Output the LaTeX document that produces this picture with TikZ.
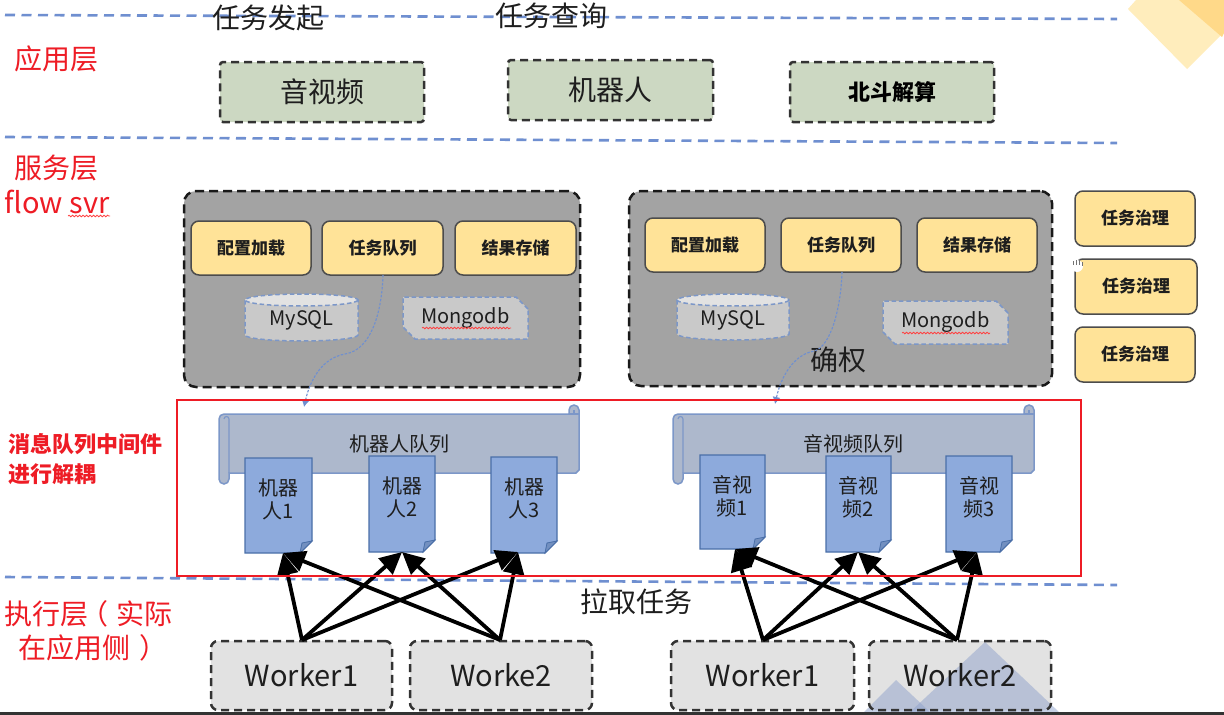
\documentclass[tikz,border=0pt]{standalone}
\usepackage{fontspec}
\setmainfont{Noto Sans CJK SC}
\usetikzlibrary{arrows.meta,shapes.misc,decorations.pathmorphing}
\definecolor{lineblue}{HTML}{6F8FD0}
\definecolor{grayboxc}{HTML}{A3A3A3}
\definecolor{yellowc}{HTML}{FFE398}
\definecolor{greenc}{HTML}{CCD8C2}
\definecolor{workerc}{HTML}{E2E2E2}
\definecolor{scrollc}{HTML}{ADB8CC}
\definecolor{scrolle}{HTML}{7C97C8}
\definecolor{docc}{HTML}{8DAADC}
\definecolor{doce}{HTML}{4A6FA8}
\definecolor{foldc}{HTML}{7390C0}
\definecolor{dbc}{HTML}{C9C9C9}
\definecolor{dbtop}{HTML}{E2E2E2}
\definecolor{redc}{HTML}{EE1C25}
\definecolor{txt}{HTML}{1E1E1E}
\definecolor{mount}{HTML}{8FA2CC}
\tikzset{
  x=1pt,y=-1pt,
  every node/.style={outer sep=0pt,inner sep=0pt,text=txt},
  layerline/.style={draw=lineblue,line width=2.6pt,dash pattern=on 10pt off 6.5pt},
  greenbox/.style={draw=black!80,fill=greenc,line width=2.5pt,dash pattern=on 8pt off 5pt,rounded corners=3pt,font=\fontsize{28}{32}\selectfont},
  graybox/.style={draw=black!90,fill=grayboxc,line width=2.5pt,dash pattern=on 9pt off 5pt,rounded corners=12pt},
  yellowbox/.style={draw=black!70,fill=yellowc,line width=1.5pt,rounded corners=8pt,font=\fontsize{17}{20}\selectfont\bfseries},
  workerbox/.style={draw=black!80,fill=workerc,line width=2.5pt,dash pattern=on 8pt off 5pt,rounded corners=7pt,font=\fontsize{29}{34}\selectfont},
  dbnode/.style={font=\fontsize{20}{24}\selectfont},
  snip/.style={chamfered rectangle,chamfered rectangle corners={north east,south west},chamfered rectangle xsep=6pt,chamfered rectangle ysep=6pt,draw=scrolle,fill=dbc,line width=1.5pt,dash pattern=on 4.5pt off 2.8pt,font=\fontsize{20}{24}\selectfont},
  dbline/.style={draw=scrolle,line width=1.5pt,dash pattern=on 4.5pt off 2.8pt},
  redlabel/.style={text=redc,font=\fontsize{28}{32}\selectfont},
  redsmall/.style={text=redc,font=\fontsize{22}{26}\selectfont\bfseries},
  toplabel/.style={font=\fontsize{28}{32}\selectfont},
  doctext/.style={align=center,font=\fontsize{20}{23}\selectfont},
  pull/.style={draw=black,line width=3.8pt,-{Triangle[length=22pt,width=21pt]}},
  flow/.style={draw=lineblue,line width=1.1pt,dash pattern=on 2.5pt off 1.5pt,-{Latex[length=7pt,width=8pt]}},
  squiggle/.style={draw=red!75,line width=.8pt,decorate,decoration={snake,amplitude=.8pt,segment length=3.5pt}},
}
\newcommand{\bx}[7]{\node[#2,minimum width={(#5-#3)*1pt},minimum height={(#6-#4)*1pt}] (#1) at ({(#3+#5)/2},{(#4+#6)/2}) {#7};}
% document shape: name x1 y1 x2 y2 text
\newcommand{\docu}[6]{%
  \fill[docc,draw=doce,line width=1.1pt] (#2,#3) -- (#4,#3) -- (#4,#5-12) -- (#4-12,#5) -- (#2,#5) -- cycle;
  \fill[foldc,draw=doce,line width=.8pt] (#4,#5-12) -- (#4-10,#5-10) -- (#4-12,#5) -- cycle;
  \node[minimum width={(#4-#2)*1pt},minimum height={(#5-#3)*1pt}] (#1) at ({(#2+#4)/2},{(#3+#5)/2}) {};
  \node[doctext] (#1t) at ({(#2+#4)/2},{#3+41}) {#6};}
% scroll: name x1 y1 x2 y2 text
\newcommand{\scrollshape}[6]{%
  \fill[scrollc,draw=scrolle,line width=1.5pt] (#2+5,#3+9) -- (#4-10,#3+9) -- (#4-10,#3+5) arc[start angle=180,end angle=360,radius=5] -- (#4,#5-3) -- (#4-3,#5) -- (#2+10,#5) -- (#2+10,#5+6) arc[start angle=0,end angle=180,radius=5] -- (#2,#3+14) arc[start angle=180,end angle=270,radius=5] -- cycle;
  \draw[scrolle,line width=1.1pt] (#2+10,#5) -- (#2+10,#3+14) arc[start angle=0,end angle=-180,radius=2.5];
  \draw[scrolle,line width=1.1pt] (#4-10,#3+9) -- (#4,#3+9) (#4-5,#3+9) -- (#4-5,#3+5);
  \node[font=\fontsize{20}{22}\selectfont] (#1) at ({(#2+#4)/2},{#3+39}) {#6};}
% cylinder: name x1 y1 x2 y2 text
\newcommand{\dbcyl}[6]{%
  \path[dbline,fill=dbc] (#2,#3+6) -- (#2,#5-6) arc[start angle=180,end angle=0,x radius={(#4-#2)/2},y radius=6] -- (#4,#3+6) -- cycle;
  \path[dbline,fill=dbtop] ({(#2+#4)/2},#3+6) ellipse[x radius={(#4-#2)/2},y radius=6];
  \node[dbnode] (#1) at ({(#2+#4)/2},{(#3+#5)/2+3}) {#6};}
\begin{document}
\begin{tikzpicture}
\useasboundingbox (0,0) rectangle (1224,715);
\fill[white] (0,0) rectangle (1224,715);
% corner decorations
\fill[yellowc!65!white] (1128,9) -- (1136,0) -- (1224,0) -- (1224,32) -- (1187,69) -- cycle;
\fill[yellowc!90!orange] (1179,0) -- (1224,0) -- (1224,33) -- (1222,37) -- cycle;
% layer lines
\coordinate (l1a) at (5,15); \coordinate (l1b) at (1117,19);
\coordinate (l2a) at (5,137); \coordinate (l2b) at (1117,143);
\coordinate (l3a) at (5,577); \coordinate (l3b) at (1117,585);
\draw[layerline] (l1a) -- (l1b);
\draw[layerline] (l2a) -- (l2b);
\draw[layerline] (l3a) -- (l3b);
% labels
\node[toplabel] (t1) at (268,18) {任务发起};
\node[toplabel] (t2) at (551,16) {任务查询};
\node[redlabel] (r1) at (56,59) {应用层};
\node[redlabel] (r2) at (56,168) {服务层};
\node[redlabel,font=\fontsize{29}{34}\selectfont] (r3) at (57,202) {flow svr};
\draw[squiggle] (68,216) -- (110,216);
\node[redsmall,anchor=west] (r4) at (9,444) {消息队列中间件};
\node[redsmall,anchor=west] (r5) at (9,474) {进行解耦};
\node[redlabel,anchor=west] (r6) at (5,614) {执行层\hspace*{-9pt}（\hspace*{9pt}实际};
\node[redlabel,anchor=west] (r7) at (19,648) {在应用侧\hspace*{9pt}）};
\node[font=\fontsize{28}{32}\selectfont] (pl) at (636,602) {拉取任务};
% top boxes
\bx{g1}{greenbox}{220}{62}{424}{122}{音视频}
\bx{g2}{greenbox}{508}{60}{713}{120}{机器人}
\bx{g3}{greenbox,font=\fontsize{22}{26}\selectfont\bfseries,text=black}{790}{62}{994}{122}{北斗解算}
% service groups
\bx{s1}{graybox}{184}{191}{580}{387}{}
\bx{s2}{graybox}{629}{191}{1052}{386}{}
\bx{y1}{yellowbox}{191}{221}{311}{275}{配置加载}
\bx{y2}{yellowbox}{322}{221}{443}{275}{任务队列}
\bx{y3}{yellowbox}{455}{221}{576}{275}{结果存储}
\bx{y4}{yellowbox}{645}{218}{765}{272}{配置加载}
\bx{y5}{yellowbox}{781}{218}{901}{272}{任务队列}
\bx{y6}{yellowbox}{917}{218}{1037}{272}{结果存储}
\bx{y7}{yellowbox}{1075}{191}{1195}{246}{任务治理}
\bx{y8}{yellowbox}{1075}{259}{1197}{314}{任务治理}
\bx{y9}{yellowbox}{1075}{327}{1195}{382}{任务治理}
% hand cursor speck
\fill[white] (1077,266) circle[radius=6];
\draw[black!55,line width=.8pt] (1073,261) -- (1073,265) (1076,260) -- (1076,265) (1079,259) -- (1079,265) (1082,262) -- (1082,266);
\dbcyl{db1}{245}{294}{358}{341}{MySQL}
\dbcyl{db2}{677}{294}{789}{340}{MySQL}
\bx{m1}{snip}{403}{297}{528}{339}{Mongodb}
\bx{m2}{snip}{883}{301}{1008}{344}{Mongodb}
\draw[squiggle] (422,328) -- (511,328);
\draw[squiggle] (902,333) -- (990,333);
\node[font=\fontsize{28}{32}\selectfont] (qr) at (838,360) {确权};
% queues
\scrollshape{q1}{219}{405}{579}{473}{机器人队列}
\scrollshape{q2}{673}{405}{1034}{473}{音视频队列}
\docu{d1}{245}{458}{312}{553}{机器\\人1}
\docu{d2}{369}{456}{435}{552}{机器\\人2}
\docu{d3}{491}{457}{557}{553}{机器\\人3}
\docu{d4}{700}{455}{765}{549}{音视\\频1}
\docu{d5}{826}{456}{891}{552}{音视\\频2}
\docu{d6}{946}{456}{1012}{552}{音视\\频3}
% flow arrows
\coordinate (f1) at (304,407);
\coordinate (f2) at (775,404);
\draw[flow] (y2.south -| 383,0) .. controls (382,310) and (372,350) .. (345,354) .. controls (322,358) and (310,380) .. (f1);
\draw[flow] (y5.south -| 842,0) .. controls (841,307) and (831,347) .. (814,351) .. controls (793,355) and (781,377) .. (f2);
% workers
\bx{w1}{workerbox}{211}{641}{392}{710}{Worker1}
\bx{w2}{workerbox}{410}{641}{592}{710}{Worke2}
\bx{w3}{workerbox}{671}{641}{854}{710}{Worker1}
\fill[workerc,rounded corners=7pt] (869,641) rectangle (1051,710);
\fill[mount,opacity=.5] (910,712) -- (985,642) -- (1059,712) -- cycle;
\fill[mount,opacity=.5] (864,712) -- (896,680) -- (930,712) -- cycle;
\bx{w4}{workerbox,fill=none}{869}{641}{1051}{710}{Worker2}
% pull arrows
\coordinate (a1) at (302,640); \coordinate (a2) at (500,640);
\coordinate (a3) at (763,640); \coordinate (a4) at (957,640);
\coordinate (b1) at (283,553); \coordinate (b2) at (402,552); \coordinate (b3) at (518,552);
\coordinate (b4) at (735,549); \coordinate (b5) at (858,552); \coordinate (b6) at (977,552);
\foreach \s in {a1,a2} \foreach \t in {b1,b2,b3} \draw[pull] (\s) -- (\t);
\foreach \s in {a3,a4} \foreach \t in {b4,b5,b6} \draw[pull] (\s) -- (\t);
% red frame
\node[draw=redc,line width=2.6pt,minimum width=904pt,minimum height=176pt] (frame) at (629,488) {};
% bottom bar
\fill[black!80] (0,712) rectangle (1224,715);
\end{tikzpicture}
\end{document}
